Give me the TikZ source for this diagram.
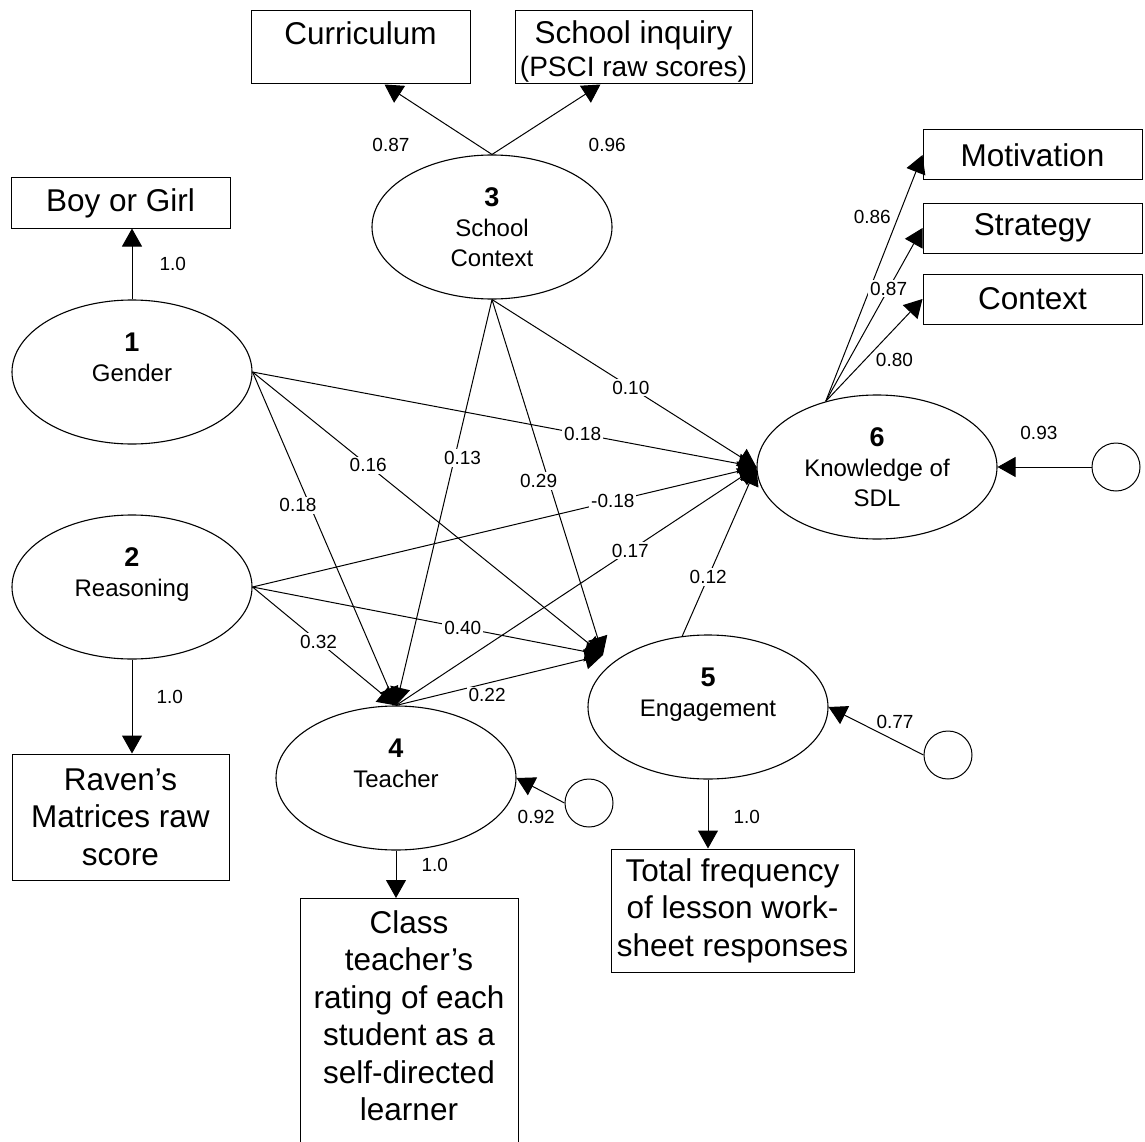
\documentclass[tikz,border=0pt]{standalone}
\usepackage{fontspec}
\setmainfont{Liberation Sans}
\usetikzlibrary{arrows.meta, shapes.geometric, positioning}

\newcommand{\varno}[1]{{\fontsize{27}{30}\selectfont\bfseries #1}}

\begin{document}
\begin{tikzpicture}[x=1pt, y=-1pt,
	latent/.style={draw, ellipse, line width=1.1pt, minimum width=240pt, minimum height=144pt, inner sep=0pt, align=center, font=\fontsize{24}{30}\selectfont},
	manifest/.style={draw, rectangle, line width=1pt, inner sep=0pt, align=center, font=\fontsize{31.5}{37.5}\selectfont},
	resid/.style={draw, circle, line width=1pt, minimum size=48pt, inner sep=0pt},
	arr/.style={line width=1pt, -{Triangle[length=18pt, width=20pt]}},
	lbl/.style={fill=white, inner sep=2pt, font=\fontsize{19}{19}\selectfont}]
	\clip (0,0) rectangle (1145,1142);

	\node[latent] (gender) at (132,372) {\varno{1}\\Gender\\\mbox{}};
	\node[latent] (reason) at (132,587) {\varno{2}\\Reasoning\\\mbox{}};
	\node[latent] (school) at (492,227) {\varno{3}\\School\\Context};
	\node[latent] (teacher) at (396,778) {\varno{4}\\Teacher\\\mbox{}};
	\node[latent] (engage) at (708,707) {\varno{5}\\Engagement\\\mbox{}};
	\node[latent] (know) at (877,467) {\varno{6}\\Knowledge of\\SDL};

	\node[manifest, minimum width=219pt, minimum height=50pt] (boygirl) at (120.5,203) {Boy or Girl};
	\node[manifest, minimum width=219pt, text height=34pt, text depth=39pt] (curric) at (360.5,47.5) {Curriculum};
	\node[manifest, minimum width=237pt, minimum height=73pt] (inquiry) at (633.5,47.5) {\rule{0pt}{30pt}School inquiry\\[-4.5pt]{\fontsize{28}{33}\selectfont(PSCI raw scores)}};
	\node[manifest, minimum width=217pt, minimum height=126pt] (raven) at (120.5,817) {Raven’s\\Matrices raw\\score};
	\node[manifest, anchor=north, minimum width=218pt, minimum height=290pt] (rating) at (409,898) {};
	\node[anchor=north, inner sep=0pt, align=center, font=\fontsize{31.5}{37.5}\selectfont] (ratingtext) at ([yshift=-12pt]rating.north) {Class\\teacher’s\\rating of each\\student as a\\self-directed\\learner};
	\node[manifest, minimum width=243pt, minimum height=123pt] (freq) at (732.5,910.5) {Total frequency\\of lesson work-\\sheet responses};
	\node[manifest, minimum width=219pt, minimum height=50pt] (motiv) at (1032.5,155) {Motivation};
	\node[manifest, minimum width=219pt, minimum height=50pt] (strat) at (1032.5,228) {Strategy};
	\node[manifest, minimum width=219pt, minimum height=50pt] (contx) at (1032.5,299) {Context};

	\node[resid] (eteach) at (589,803) {};
	\node[resid] (eeng) at (948,755) {};
	\node[resid] (eknow) at (1116,467) {};

	\coordinate (engin) at ([shift={(-105,-52)}]engage.center);

	\draw[arr] (gender.north) -- (gender.north |- boygirl.south) node[lbl, pos=0.5, right=25pt] {1.0};
	\draw[arr] (reason.south) -- (reason.south |- raven.north) node[lbl, pos=0.4, right=22pt] {1.0};
	\draw[arr] (teacher.south) -- (teacher.south |- rating.north) node[lbl, pos=0.3, right=23pt] {1.0};
	\draw[arr] (engage.south) -- (engage.south |- freq.north) node[lbl, pos=0.54, right=23pt] {1.0};
	\draw[arr] (school.north) -- ([xshift=24pt]curric.south) node[lbl, pos=0.14, xshift=-86pt] {0.87};
	\draw[arr] (school.north) -- ([xshift=-33pt]inquiry.south) node[lbl, pos=0.14, xshift=100pt] {0.96};
	\draw[arr] (know.128) -- (motiv.west) node[lbl, pos=0.75, xshift=-26pt] {0.86};
	\draw[arr] (know.128) -- (strat.west) node[lbl, pos=0.65] {0.87};
	\draw[arr] (know.128) -- (contx.west) node[lbl, pos=0.4, xshift=30pt] {0.80};

	\draw[arr] (eknow.west) -- (know.east) node[lbl, pos=0.56, yshift=34pt] {0.93};
	\draw[arr] (eteach.west) -- (teacher.east) node[lbl, pos=0.59, yshift=-29pt] {0.92};
	\draw[arr] (eeng.west) -- (engage.east) node[lbl, pos=0.3, yshift=19pt] {0.77};

	\draw[arr] (gender.east) -- (know.west) node[lbl, pos=0.655] {0.18};
	\draw[arr] (gender.east) -- (engin) node[lbl, pos=0.33] {0.16};
	\draw[arr] (gender.east) -- (teacher.north) node[lbl, pos=0.4, xshift=-12pt] {0.18};
	\draw[arr] (reason.east) -- (know.west) node[lbl, pos=0.715] {-0.18};
	\draw[arr] (reason.east) -- (engin) node[lbl, pos=0.6] {0.40};
	\draw[arr] (reason.east) -- (teacher.north) node[lbl, pos=0.46] {0.32};
	\draw[arr] (school.south) -- (teacher.north) node[lbl, pos=0.39, xshift=8pt] {0.13};
	\draw[arr] (school.south) -- (engin) node[lbl, pos=0.51, xshift=-10pt] {0.29};
	\draw[arr] (school.south) -- (know.west) node[lbl, pos=0.525] {0.10};
	\draw[arr] (teacher.north) -- (know.west) node[lbl, pos=0.65] {0.17};
	\draw[arr] (teacher.north) -- (engin) node[lbl, pos=0.44, yshift=-12pt] {0.22};
	\draw[arr] (engage.110) -- (know.west) node[lbl, pos=0.35] {0.12};
\end{tikzpicture}
\end{document}
